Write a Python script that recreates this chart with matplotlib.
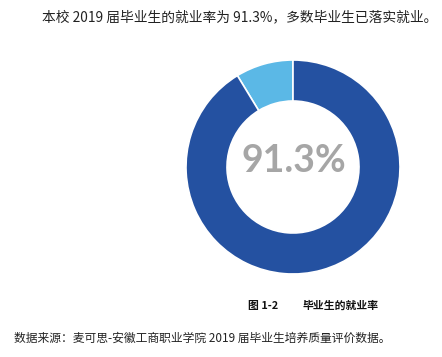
import matplotlib
matplotlib.use('Agg')
import matplotlib.pyplot as plt

plt.rcParams['font.family'] = ['Noto Sans CJK SC', 'DejaVu Sans']

# Data
labels = ['未就业', '就业']
shares = [8.7, 91.3]
colors = ['#5BB8E6', '#2451A1']
center_label = '91.3%'

fig = plt.figure(figsize=(4.42, 3.57), dpi=100)

# donut
ax = fig.add_axes([(293 - 110) / 442, 1 - (167 + 110) / 357, 220 / 442, 220 / 357])
ax.pie(shares, colors=colors, startangle=90, counterclock=True,
       radius=107 / 110,
       wedgeprops=dict(width=41 / 110, edgecolor='white', linewidth=1.2))
ax.set_xlim(-1, 1)
ax.set_ylim(-1, 1)
ax.set_aspect('equal')
ax.axis('off')
ax.text(0.01, 0.05, center_label, ha='center', va='center', fontsize=27,
        color='#A6A6A6', family='Lato', fontweight='bold')

fig.text(42 / 442, 1 - 17 / 357, '本校 2019 届毕业生的就业率为 91.3%，多数毕业生已落实就业。',
         ha='left', va='center', fontsize=9.9, color='#222222')
fig.text(248 / 442, 1 - 306 / 357, '图 1-2', ha='left', va='center',
         fontsize=7.8, fontweight='bold', color='#111111')
fig.text(303 / 442, 1 - 306 / 357, '毕业生的就业率', ha='left', va='center',
         fontsize=7.8, fontweight='bold', color='#111111')
fig.text(14 / 442, 1 - 338 / 357, '数据来源：麦可思-安徽工商职业学院 2019 届毕业生培养质量评价数据。',
         ha='left', va='center', fontsize=8.5, color='#222222')

fig.savefig('out.png', dpi=100)
